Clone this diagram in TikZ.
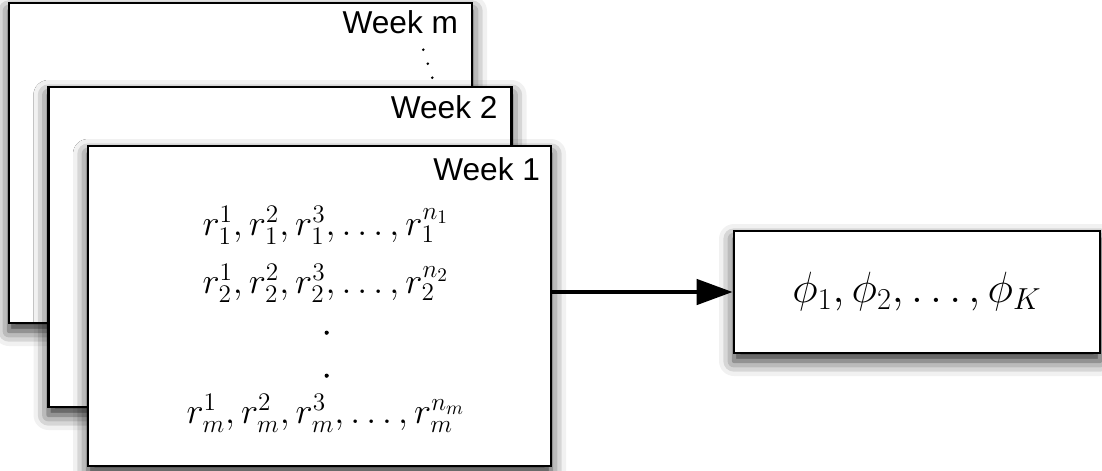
\documentclass[tikz,border=0pt]{standalone}
\usepackage[no-math]{fontspec}
\newfontfamily\weekfont{Liberation Sans}
\usetikzlibrary{positioning,calc,arrows.meta,shadows.blur}

\begin{document}
\begin{tikzpicture}[
  card/.style={draw=black, line width=1.5pt, fill=white, inner sep=0pt, minimum width=9.26cm, minimum height=6.4cm, softshadow},
  softshadow/.style={blur shadow={shadow xshift=0pt, shadow yshift=-0.16cm, shadow blur radius=0.3cm, shadow opacity=85}},
  weeklabel/.style={font=\weekfont\fontsize{18}{21}\selectfont, inner sep=0pt, anchor=base east},
  rrow/.style={font=\fontsize{22}{25}\selectfont, inner sep=0pt, anchor=base},
  phibox/.style={draw=black, line width=1.5pt, fill=white, inner sep=0pt, minimum width=7.32cm, minimum height=2.44cm, font=\fontsize{26}{30}\selectfont, softshadow},
  flow/.style={-{Triangle[length=0.72cm, width=0.5cm]}, line width=2.6pt},
]
\useasboundingbox (0,0) rectangle (22.04,-9.4);
% stack of weekly cards, back to front
\node[card] (cardm) at (4.81,-3.26) {};
\node[weeklabel] (lblm) at ($(cardm.north east)+(-0.3,-0.64)$) {Week m};
\foreach \i in {0,1,2}
  \fill ($(cardm.north east)+(-1.0+0.09*\i,-0.96-0.28*\i)$) circle (0.028);
\node[card] (card2) at (5.6,-4.94) {};
\node[weeklabel] (lbl2) at ($(card2.north east)+(-0.3,-0.66)$) {Week 2};
\node[card] (card1) at (6.39,-6.12) {};
\node[weeklabel] (lbl1) at ($(card1.north east)+(-0.24,-0.72)$) {Week 1};
% rows of the front card
\node[rrow] (row1) at ($(card1.north west)+(4.78,-1.82)$) {$r_1^1, r_1^2, r_1^3, \ldots, r_1^{n_1}$};
\node[rrow] (row2) at ($(card1.north west)+(4.78,-2.98)$) {$r_2^1, r_2^2, r_2^3, \ldots, r_2^{n_2}$};
\foreach \y in {3.76,4.62}
  \fill ($(card1.north west)+(4.8,-\y)$) circle (0.042);
\node[rrow] (rowm) at ($(card1.north west)+(4.78,-5.58)$) {$r_m^1, r_m^2, r_m^3, \ldots, r_m^{n_m}$};
% result
\node[phibox] (phi) at (18.34,-5.84) {$\phi_1, \phi_2, \ldots, \phi_K$};
\draw[flow] (card1.east |- phi.west) -- (phi.west);
\end{tikzpicture}
\end{document}
